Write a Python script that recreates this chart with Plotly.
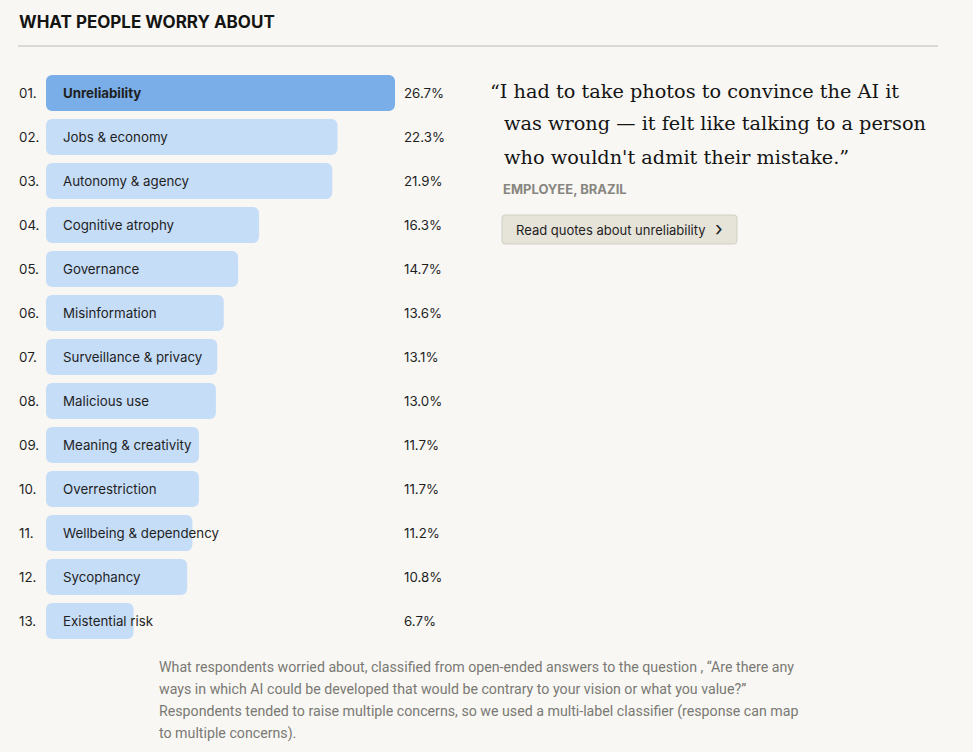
import plotly.graph_objects as go

# ****************************************************************************
# Datos
# ****************************************************************************
categorias = [
    "Unreliability", "Jobs & economy", "Autonomy & agency", "Cognitive atrophy",
    "Governance", "Misinformation", "Surveillance & privacy", "Malicious use",
    "Meaning & creativity", "Overrestriction", "Wellbeing & dependency",
    "Sycophancy", "Existential risk",
]
valores = [26.7, 22.3, 21.9, 16.3, 14.7, 13.6, 13.1, 13.0, 11.7, 11.7, 11.2, 10.8, 6.7]
numeros = [f"{i + 1:02d}." if i < 9 else f"{i + 1}." for i in range(len(categorias))]

W, H = 973, 752
FONDO = "#f8f7f4"
SANS = "Inter, Roboto, sans-serif"
SERIF = "DejaVu Serif, Liberation Serif, serif"
TAM = 13.3


def px_x(p):
    return p / W


def px_y(p):
    return 1 - p / H


colores = ["#7aaee8"] + ["#c6ddf8"] * (len(categorias) - 1)
# Dos tramos solapados por barra, para que ambas puntas queden redondeadas
tramo_izq = [v * 0.75 for v in valores]
tramo_der_base = [v * 0.25 for v in valores]

fig = go.Figure()
fig.add_trace(go.Bar(
    x=[-t for t in tramo_izq], base=tramo_izq, y=categorias,
    orientation="h",
    marker=dict(color=colores, cornerradius=6, line=dict(width=0)),
    width=0.82, hoverinfo="skip",
))
fig.add_trace(go.Bar(
    x=[v - b for v, b in zip(valores, tramo_der_base)], base=tramo_der_base, y=categorias,
    orientation="h",
    marker=dict(color=colores, cornerradius=6, line=dict(width=0)),
    width=0.82, hoverinfo="skip",
))

anotaciones = []
for i, (cat, val, num) in enumerate(zip(categorias, valores, numeros)):
    # Nombre dentro de la barra
    anotaciones.append(dict(
        x=0, y=cat, xref="x", yref="y", text=f"<b>{cat}</b>" if i == 0 else cat,
        xanchor="left", yanchor="middle", xshift=15, showarrow=False,
        font=dict(family=SANS, size=TAM, color="#1f1f1f"),
    ))
    # Número de fila
    anotaciones.append(dict(
        x=px_x(16.5), y=cat, xref="paper", yref="y", text=num,
        xanchor="left", yanchor="middle", showarrow=False,
        font=dict(family=SANS, size=TAM, color="#1f1f1f"),
    ))
    # Porcentaje
    anotaciones.append(dict(
        x=px_x(401.5), y=cat, xref="paper", yref="y", text=f"{val:.1f}%",
        xanchor="left", yanchor="middle", showarrow=False,
        font=dict(family=SANS, size=TAM, color="#1f1f1f"),
    ))

# Título
anotaciones.append(dict(
    x=px_x(16.5), y=px_y(21.5), xref="paper", yref="paper",
    text="<b>WHAT PEOPLE WORRY ABOUT</b>", xanchor="left", yanchor="middle",
    showarrow=False, font=dict(family=SANS, size=17, color="#141413"),
))

# Cita
lineas_cita = [
    ("\u201cI had to take photos to convince the AI it", 488, 91),
    ("was wrong \u2014 it felt like talking to a person", 502, 124),
    ("who wouldn't admit their mistake.\u201d", 502, 157),
]
for txt, x0, y0 in lineas_cita:
    anotaciones.append(dict(
        x=px_x(x0), y=px_y(y0), xref="paper", yref="paper", text=txt,
        xanchor="left", yanchor="middle", showarrow=False,
        font=dict(family=SERIF, size=19.3, color="#141413"),
    ))
anotaciones.append(dict(
    x=px_x(501), y=px_y(189), xref="paper", yref="paper",
    text="<b>EMPLOYEE, BRAZIL</b>", xanchor="left", yanchor="middle",
    showarrow=False, font=dict(family=SANS, size=13, color="#87867f"),
))
anotaciones.append(dict(
    x=px_x(514), y=px_y(230), xref="paper", yref="paper",
    text="Read quotes about unreliability", xanchor="left", yanchor="middle",
    showarrow=False, font=dict(family=SANS, size=13, color="#1f1f1f"),
))
anotaciones.append(dict(
    x=px_x(713), y=px_y(229), xref="paper", yref="paper",
    text="\u203a", xanchor="left", yanchor="middle",
    showarrow=False, font=dict(family=SANS, size=20, color="#1f1f1f"),
))

# Nota al pie
nota = [
    "What respondents worried about, classified from open-ended answers to the question , \u201cAre there any",
    "ways in which AI could be developed that would be contrary to your vision or what you value?\u201d",
    "Respondents tended to raise multiple concerns, so we used a multi-label classifier (response can map",
    "to multiple concerns).",
]
for k, linea in enumerate(nota):
    anotaciones.append(dict(
        x=px_x(157), y=px_y(667 + 22 * k), xref="paper", yref="paper", text=linea,
        xanchor="left", yanchor="middle", showarrow=False,
        font=dict(family="Roboto, sans-serif", size=14.2, color="#7a7973"),
    ))


def rect_redondeado(x0, y0, x1, y1, r):
    X0, X1 = px_x(x0), px_x(x1)
    Y0, Y1 = px_y(y0), px_y(y1)
    rx, ry = r / W, r / H
    return (f"M {X0 + rx},{Y0} L {X1 - rx},{Y0} Q {X1},{Y0} {X1},{Y0 - ry} "
            f"L {X1},{Y1 + ry} Q {X1},{Y1} {X1 - rx},{Y1} L {X0 + rx},{Y1} "
            f"Q {X0},{Y1} {X0},{Y1 + ry} L {X0},{Y0 - ry} Q {X0},{Y0} {X0 + rx},{Y0} Z")


formas = [
    dict(type="line", xref="paper", yref="paper", x0=px_x(18), x1=px_x(938),
         y0=px_y(46), y1=px_y(46), line=dict(color="#bdbcb6", width=1)),
    dict(type="path", xref="paper", yref="paper", path=rect_redondeado(502, 215, 737, 244, 3),
         fillcolor="#e6e3d9", line=dict(color="#d3d0c4", width=1)),
]

fig.update_layout(
    width=W, height=H,
    margin=dict(l=0, r=0, t=0, b=0),
    paper_bgcolor=FONDO, plot_bgcolor=FONDO,
    showlegend=False,
    barmode="overlay",
    xaxis=dict(domain=[px_x(46), px_x(395)], range=[0, max(valores)],
               visible=False, fixedrange=True),
    yaxis=dict(domain=[px_y(643), px_y(71)], autorange="reversed",
               visible=False, fixedrange=True),
    annotations=anotaciones,
    shapes=formas,
)

fig.write_html(
    "out.html",
    config={"displayModeBar": False},
    post_script="document.body.style.margin='0';document.body.style.background='" + FONDO + "';",
)
